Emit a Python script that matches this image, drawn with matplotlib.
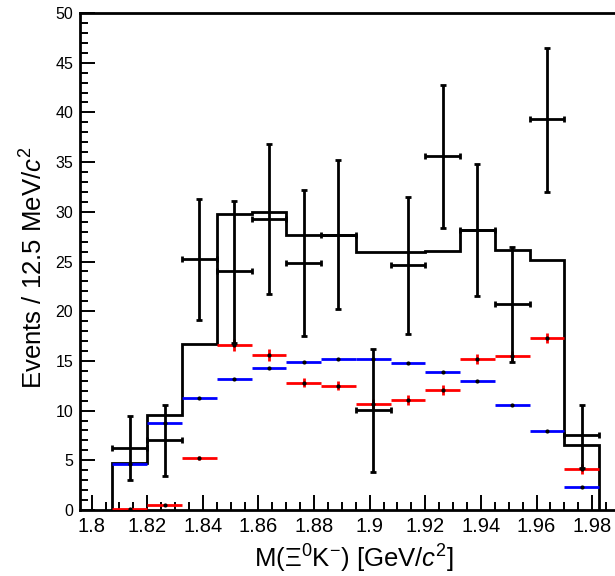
import numpy as np
import matplotlib
matplotlib.use("Agg")
import matplotlib.pyplot as plt
from matplotlib.ticker import MultipleLocator

plt.rcParams["font.family"] = ["Liberation Sans", "DejaVu Sans"]
plt.rcParams["mathtext.fontset"] = "custom"
plt.rcParams["mathtext.rm"] = "Liberation Sans"
plt.rcParams["mathtext.it"] = "Liberation Sans:italic"

# 12.5 MeV bins
edges = [1.8075, 1.82, 1.8325, 1.845, 1.8575, 1.87, 1.8825, 1.895,
         1.9075, 1.92, 1.9325, 1.945, 1.9575, 1.97, 1.9825]

# data points
data_y = [6.2, 7.0, 25.3, 24.0, 29.3, 24.8, 27.7, 10.1, 24.6, 35.6, 28.2, 20.7, 39.3, 7.5]
data_up = [3.3, 3.6, 6.0, 7.1, 7.5, 7.4, 7.5, 6.1, 6.9, 7.2, 6.6, 5.8, 7.2, 3.1]
data_dn = [3.2, 3.6, 6.2, 7.2, 7.6, 7.3, 7.5, 6.3, 6.9, 7.2, 6.7, 5.8, 7.3, 3.3]

# total fit
fit_y = [4.7, 9.6, 16.7, 29.8, 30.0, 27.7, 27.7, 26.0, 26.0, 26.1, 28.2, 26.2, 25.2, 6.5]

# components
blue_y = [4.6, 8.8, 11.3, 13.2, 14.3, 14.9, 15.2, 15.2, 14.8, 13.9, 13.0, 10.6, 7.9, 2.3]
blue_err = [0.1, 0.1, 0.1, 0.1, 0.1, 0.1, 0.1, 0.1, 0.1, 0.1, 0.1, 0.1, 0.1, 0.1]
red_y = [0.1, 0.5, 5.2, 16.6, 15.6, 12.8, 12.5, 10.7, 11.1, 12.1, 15.2, 15.5, 17.3, 4.1]
red_err = [0.05, 0.1, 0.2, 0.6, 0.6, 0.45, 0.45, 0.5, 0.5, 0.5, 0.5, 0.5, 0.5, 0.5]

edges_a = np.array(edges)
centers = 0.5 * (edges_a[:-1] + edges_a[1:])
half = 0.5 * np.diff(edges_a)

fig = plt.figure(figsize=(6.15, 5.76), dpi=100)
ax = fig.add_axes([0.130, 0.1146, 0.878, 0.8628])

ax.stairs(fit_y, edges, color="black", linewidth=2.0, baseline=0, zorder=2)

ax.errorbar(centers, blue_y, xerr=half, yerr=blue_err, fmt="none",
            ecolor="blue", elinewidth=2.0, capsize=0, zorder=3)
ax.plot(centers, blue_y, "o", color="black", markersize=2, zorder=4)

ax.errorbar(centers, red_y, xerr=half, yerr=red_err, fmt="none",
            ecolor="red", elinewidth=2.0, capsize=0, zorder=3)
ax.plot(centers, red_y, "o", color="black", markersize=2, zorder=4)

ax.errorbar(centers, data_y, xerr=half, yerr=[data_dn, data_up], fmt="none",
            ecolor="black", elinewidth=2.0, capsize=2.5, capthick=2.0, zorder=5)

ax.set_xlim(1.7958, 1.99)
ax.set_ylim(0, 50)

ax.xaxis.set_major_locator(MultipleLocator(0.02))
ax.xaxis.set_minor_locator(MultipleLocator(0.005))
ax.yaxis.set_major_locator(MultipleLocator(5))
ax.yaxis.set_minor_locator(MultipleLocator(1))
ax.xaxis.set_major_formatter(plt.FuncFormatter(lambda v, p: f"{v:g}"))

ax.tick_params(which="both", direction="in", top=False, right=False,
               width=1.4, colors="black")
ax.tick_params(which="major", length=11)
ax.tick_params(which="minor", length=5.5)
ax.tick_params(axis="x", pad=5, labelsize=14.5)
ax.tick_params(axis="y", pad=5, labelsize=11.5)

for s in ax.spines.values():
    s.set_linewidth(2.0)

fig.text(0.055, 0.535, r"Events / 12.5 MeV/$c^{2}$", rotation=90,
         ha="center", va="center", fontsize=18.5)
fig.text(0.576, 0.03, r"M($\Xi^{0}$K$^{-}$) [GeV/$c^{2}$]",
         ha="center", va="center", fontsize=18.5)

fig.savefig("out.png", dpi=100)
